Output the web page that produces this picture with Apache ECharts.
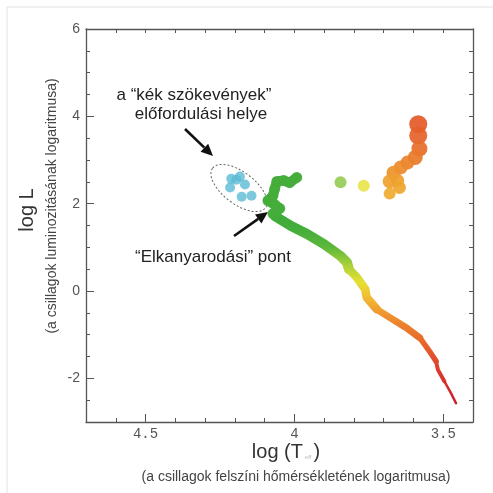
<!DOCTYPE html>
<html><head><meta charset="utf-8">
<script src="https://cdn.jsdelivr.net/npm/echarts@6/dist/echarts.min.js"></script>
<style>html,body{margin:0;padding:0;background:#fff}#c{width:493px;height:493px}</style>
</head><body><div id="c"></div>
<script>
// ---- data ----
const xMajorTicks = [3.5, 4, 4.5];
const yMajorTicks = [-2, 0, 2, 4, 6];
// main sequence (log Teff, log L)
const msLogT = [4.066, 4.011, 3.956, 3.900, 3.845, 3.823, 3.817, 3.790, 3.762, 3.757, 3.723, 3.679, 3.624, 3.579, 3.546, 3.524, 3.518, 3.496, 3.474, 3.457];
const msLogL = [1.72, 1.49, 1.30, 1.07, 0.80, 0.65, 0.50, 0.31, 0.04, -0.15, -0.42, -0.61, -0.84, -1.07, -1.38, -1.61, -1.80, -2.07, -2.34, -2.57];
// turn-off / subgiant region
const toLogT = [4.072, 4.049, 4.066, 4.089, 4.072, 4.066, 4.059, 4.036, 4.016, 3.992];
const toLogL = [1.77, 1.89, 1.98, 2.07, 2.18, 2.34, 2.51, 2.53, 2.48, 2.60];
// blue stragglers
const bsLogT = [4.212, 4.195, 4.183, 4.166, 4.216, 4.177, 4.144];
const bsLogL = [2.57, 2.55, 2.62, 2.44, 2.37, 2.16, 2.18];
// horizontal branch
const hbLogT = [3.845, 3.767];
const hbLogL = [2.49, 2.41];
// red giant branch
const rgbLogT = [3.584, 3.584, 3.580, 3.594, 3.620, 3.643, 3.667, 3.680, 3.653, 3.647, 3.680];
const rgbLogL = [3.82, 3.56, 3.26, 3.06, 2.94, 2.83, 2.71, 2.51, 2.53, 2.37, 2.23];

// ---- styles ----
const msSegments = [[0, 6, 10], [6, 10, 8.5], [10, 13, 7], [13, 15, 5.5], [15, 17, 4], [17, 19, 2.5]];
const rgbSizes = [18, 18, 16, 15, 14, 14, 14, 14, 13, 13, 12];
const hbColors = ['#86c43c', '#e6e032'];

const zip = (a, b) => a.map((v, i) => [v, b[i]]);
const ms = zip(msLogT, msLogL);

const series = [];
const msIdx = [];
msSegments.forEach(([s, e, w]) => {
  msIdx.push(series.length);
  series.push({type: 'line', data: ms.slice(s, e + 1), showSymbol: false, symbol: 'none', smooth: false,
    lineStyle: {width: w, cap: 'round', join: 'round'}, z: 3, animation: false});
});
series.push({type: 'line', data: zip(toLogT, toLogL), showSymbol: false, symbol: 'none',
  lineStyle: {width: 10, color: '#45ad3b', cap: 'round', join: 'round'}, z: 3, animation: false});
series.push({type: 'scatter', data: zip(toLogT, toLogL), symbolSize: 11, itemStyle: {color: '#45ad3b'}, z: 3, animation: false});
series.push({type: 'scatter', data: zip(bsLogT, bsLogL), symbolSize: 10, itemStyle: {color: '#5bbad4'}, z: 3, animation: false});
series.push({type: 'scatter', data: zip(hbLogT, hbLogL).map((p, i) => ({value: p, itemStyle: {color: hbColors[i]}})), symbolSize: 12, z: 3, animation: false});
const rgbIdx = series.length;
series.push({type: 'scatter', data: zip(rgbLogT, rgbLogL), symbolSize: (v, p) => rgbSizes[p.dataIndex], itemStyle: {opacity: 0.92}, z: 3, animation: false});

const axisColor = '#555';
const isMajorX = v => xMajorTicks.some(t => Math.abs(t - v) < 1e-6);
const isMajorY = v => yMajorTicks.some(t => Math.abs(t - v) < 1e-6);

function arrow(x1, y1, x2, y2) {
  const a = Math.atan2(y2 - y1, x2 - x1), hl = 12, hw = 5.5;
  const bx = x2 - hl * Math.cos(a), by = y2 - hl * Math.sin(a);
  return [
    {type: 'line', shape: {x1, y1, x2: bx, y2: by}, style: {stroke: '#111', lineWidth: 2.6}},
    {type: 'polygon', shape: {points: [[x2, y2], [bx + hw * Math.sin(a), by - hw * Math.cos(a)], [bx - hw * Math.sin(a), by + hw * Math.cos(a)]]}, style: {fill: '#111'}}
  ];
}

const baseX = {type: 'value', min: 3.4, max: 4.7, interval: 0.1, inverse: true, splitLine: {show: false}};
const baseY = {type: 'value', min: -3, max: 6, interval: 0.5, splitLine: {show: false}};
const line = {onZero: false, lineStyle: {color: axisColor, width: 1.3}};

const option = {
  backgroundColor: '#fff',
  animation: false,
  grid: {left: 86, right: 20, top: 29, bottom: 71, containLabel: false},
  xAxis: [
    Object.assign({}, baseX, {position: 'bottom', axisLine: line,
      axisTick: {inside: true, length: 4, lineStyle: {color: axisColor}},
      axisLabel: {margin: 5, color: '#555', fontFamily: 'Liberation Mono', fontSize: 14,
        formatter: v => isMajorX(v) ? (Math.abs(v - 4) < 1e-6 ? '4' : v.toFixed(1)) : ''}}),
    Object.assign({}, baseX, {position: 'top', axisLine: line,
      axisTick: {inside: true, length: 4, lineStyle: {color: axisColor}}, axisLabel: {show: false}}),
    Object.assign({}, baseX, {position: 'bottom', axisLine: {show: false, onZero: false},
      axisTick: {inside: true, length: 8, customValues: xMajorTicks, lineStyle: {color: axisColor}}, axisLabel: {show: false}})
  ],
  yAxis: [
    Object.assign({}, baseY, {position: 'left', axisLine: line,
      axisTick: {inside: true, length: 4, lineStyle: {color: axisColor}},
      axisLabel: {margin: 6, color: '#555', fontFamily: 'Liberation Sans', fontSize: 14,
        formatter: v => isMajorY(v) ? String(Math.round(v)) : ''}}),
    Object.assign({}, baseY, {position: 'right', axisLine: line,
      axisTick: {inside: true, length: 4, lineStyle: {color: axisColor}}, axisLabel: {show: false}}),
    Object.assign({}, baseY, {position: 'left', axisLine: {show: false, onZero: false},
      axisTick: {inside: true, length: 8, customValues: yMajorTicks, lineStyle: {color: axisColor}}, axisLabel: {show: false}})
  ],
  visualMap: [
    {type: 'continuous', show: false, dimension: 1, seriesIndex: msIdx, min: -2.6, max: 1.8,
      inRange: {color: ['#c81c2c', '#d42c2e', '#dc3c2e', '#e4582c', '#ea722c', '#ee8e2e', '#f2b632', '#e6e034', '#a8d03a', '#5cb83a', '#44ae3a', '#3daa3a']}},
    {type: 'continuous', show: false, dimension: 1, seriesIndex: [rgbIdx], min: 2.2, max: 3.8,
      inRange: {color: ['#f0ae30', '#ee9a2e', '#ea7c2a', '#e6662a', '#e45a28']}}
  ],
  series: series,
  graphic: [
    {type: 'rect', shape: {x: 7, y: 7, width: 520, height: 520}, style: {fill: 'none', stroke: '#e2e2e2', lineWidth: 1}, silent: true},
    {type: 'text', x: 27, y: 210, rotation: Math.PI / 2, style: {text: 'log L', font: '20px "Liberation Sans", Arial', fill: '#333', textAlign: 'center', textVerticalAlign: 'middle'}},
    {type: 'text', x: 52, y: 206, rotation: Math.PI / 2, style: {text: '(a csillagok luminozitásának logaritmusa)', font: '14px "Liberation Sans", Arial', fill: '#444', textAlign: 'center', textVerticalAlign: 'middle'}},
    {type: 'text', x: 286, y: 452, style: {text: 'log (T{s|eff})', rich: {s: {fontSize: 6, fill: '#bbb', padding: [10, 2, 0, 2]}}, font: '20px "Liberation Sans", Arial', fill: '#333', textAlign: 'center', textVerticalAlign: 'middle'}},
    {type: 'text', x: 296, y: 477, style: {text: '(a csillagok felszíni hőmérsékletének logaritmusa)', font: '14px "Liberation Sans", Arial', fill: '#444', textAlign: 'center', textVerticalAlign: 'middle'}},
    {type: 'text', x: 194, y: 95, style: {text: 'a “kék szökevények”', font: '17px "Liberation Sans", Arial', fill: '#222', textAlign: 'center', textVerticalAlign: 'middle'}},
    {type: 'text', x: 201, y: 114, style: {text: 'előfordulási helye', font: '17px "Liberation Sans", Arial', fill: '#222', textAlign: 'center', textVerticalAlign: 'middle'}},
    {type: 'text', x: 213, y: 257, style: {text: '“Elkanyarodási” pont', font: '17px "Liberation Sans", Arial', fill: '#222', textAlign: 'center', textVerticalAlign: 'middle'}},
    {type: 'ellipse', x: 239, y: 188, rotation: -37 * Math.PI / 180, shape: {cx: 0, cy: 0, rx: 33, ry: 16}, style: {fill: 'none', stroke: '#666', lineWidth: 1, lineDash: [2, 2]}}
  ].concat(arrow(185, 129, 213, 156), arrow(234, 236, 268, 212))
};

const chart = echarts.init(document.getElementById('c'), null, {renderer: 'canvas'});
chart.setOption(option);
</script>
</body></html>
